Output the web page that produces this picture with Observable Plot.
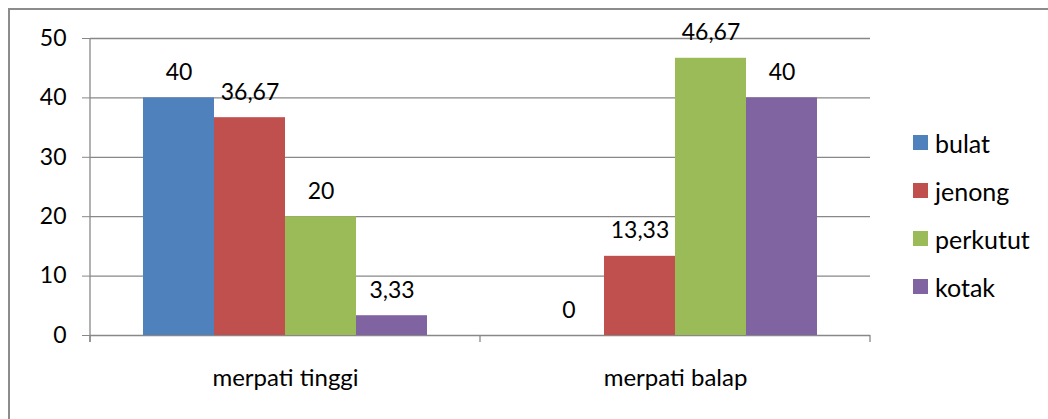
<!DOCTYPE html>
<html>
<head>
<meta charset="utf-8">
<script src="https://cdn.jsdelivr.net/npm/d3@7"></script>
<script src="https://cdn.jsdelivr.net/npm/@observablehq/plot@0.6"></script>
<style>
  body { margin: 0; background: #fff; font-family: Lato, "Open Sans", sans-serif; }
  #wrap { position: relative; width: 1048px; height: 419px; overflow: hidden; }
  #border { position: absolute; left: 8px; top: 8px; width: 1100px; height: 500px;
            border-left: 2px solid #8c8c8c; border-top: 2px solid #8c8c8c; }
  #chart { position: absolute; left: 0; top: 0; }
  #legend { position: absolute; left: 913px; top: 135px; font-size: 25px; color: #000; }
  .item { display: flex; align-items: center; height: 15px; margin-bottom: 33px; }
  .sw { width: 15px; height: 15px; margin-right: 7px; flex: none; }
  g[aria-label="y-axis tick"] path { stroke: #888; stroke-opacity: 1; }
</style>
</head>
<body>
<div id="wrap">
  <div id="border"></div>
  <div id="chart"></div>
  <div id="legend"></div>
</div>
<script>
const categories = ["merpati tinggi", "merpati balap"];
const series = ["bulat", "jenong", "perkutut", "kotak"];
const bulat = [40, 0];
const jenong = [36.67, 13.33];
const perkutut = [20, 46.67];
const kotak = [3.33, 40];
const colors = ["#4F81BD", "#C0504D", "#9BBB59", "#8064A2"];
const yTicks = [0, 10, 20, 30, 40, 50];

const seriesValues = [bulat, jenong, perkutut, kotak];
const data = categories.flatMap((c, i) =>
  series.map((s, j) => ({
    category: c,
    series: s,
    value: seriesValues[j][i],
    label: String(seriesValues[j][i]).replace(".", ",")
  }))
);

const chart = Plot.plot({
  width: 1048,
  height: 419,
  marginLeft: 90,
  marginRight: 178,
  marginTop: 38,
  marginBottom: 84,
  style: { fontFamily: "Lato, 'Open Sans', sans-serif", fontSize: "23px", color: "#000", background: "transparent", overflow: "visible" },
  fx: { domain: categories, padding: 0, label: null },
  x: { domain: series, paddingInner: 0, paddingOuter: 0.746, axis: null },
  y: { domain: [0, 50], label: null },
  color: { domain: series, range: colors },
  marks: [
    Plot.ruleY(yTicks, { stroke: "#888", strokeWidth: 1.3 }),
    Plot.barY(data, { fx: "category", x: "series", y: "value", fill: "series" }),
    Plot.text(data, { fx: "category", x: "series", y: "value", text: "label", lineAnchor: "bottom", dy: -18, fill: "#000", fontSize: 23 }),
    Plot.axisY({ ticks: yTicks, tickSize: 8, tickPadding: 16, label: null, fontSize: 23 }),
    Plot.axisFx({ anchor: "bottom", tickSize: 0, tickPadding: 33, label: null, fontSize: 24 })
  ]
});
document.getElementById("chart").appendChild(chart);

// axis line and category boundary ticks, placed with the plot's own scales
const fxS = chart.scale("fx");
const yS = chart.scale("y");
const svg = d3.select(chart);
const y0 = yS.apply(0), yTop = yS.apply(50);
const edges = categories.map(c => fxS.apply(c));
edges.push(fxS.apply(categories[categories.length - 1]) + fxS.bandwidth);
const g = svg.append("g").attr("stroke", "#888").attr("stroke-width", 1.3);
g.append("line").attr("x1", edges[0]).attr("x2", edges[0]).attr("y1", yTop).attr("y2", y0 + 7);
edges.forEach(x => g.append("line").attr("x1", x).attr("x2", x).attr("y1", y0).attr("y2", y0 + 7));

// legend
const legend = d3.select("#legend");
series.forEach((s, i) => {
  const it = legend.append("div").attr("class", "item");
  it.append("div").attr("class", "sw").style("background", colors[i]);
  it.append("span").text(s);
});
</script>
</body>
</html>
